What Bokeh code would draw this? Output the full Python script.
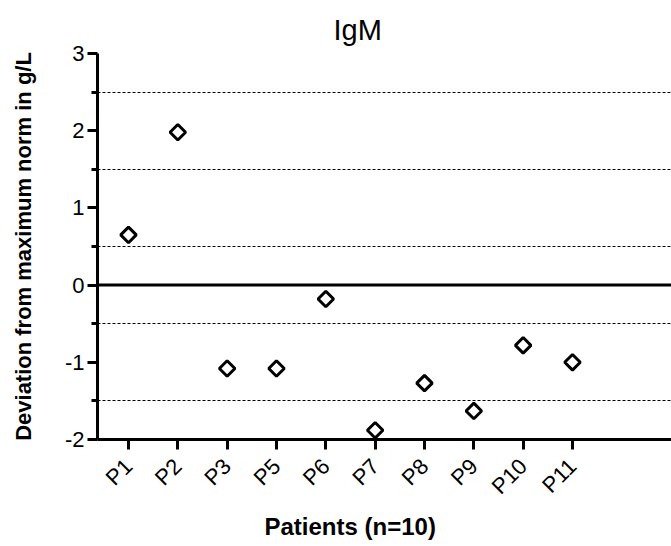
import numpy as np
from bokeh.plotting import figure
from bokeh.models import Range1d, FixedTicker, Span, Title, ColumnDataSource
from bokeh.embed import file_html
from bokeh.resources import INLINE

patients = ["P1", "P2", "P3", "P5", "P6", "P7", "P8", "P9", "P10", "P11"]
deviation = [0.65, 1.98, -1.08, -1.08, -0.18, -1.88, -1.27, -1.63, -0.78, -1.00]
y_ticks = [-2, -1, 0, 1, 2, 3]
y_tick_labels = ["-2", "-1", "0", "1", "2", "3"]
y_minor = [-1.5, -0.5, 0.5, 1.5, 2.5]

FONT = "Liberation Sans"
xpos = list(range(len(patients)))
src = ColumnDataSource(dict(x=xpos, y=deviation, name=patients))

p = figure(width=671, height=546, output_backend="svg", toolbar_location=None,
           x_range=Range1d(-0.628, 11.007), y_range=Range1d(-2, 3),
           min_border_left=97, min_border_right=0, min_border_top=53,
           min_border_bottom=107)
p.outline_line_color = None

p.title.text = "IgM"
p.title.align = "left"
p.title.offset = 236
p.title.text_font = FONT
p.title.text_font_size = "29px"
p.title.text_font_style = "normal"
p.title.text_color = "black"
p.title.standoff = 15

# grid
p.xgrid.visible = False
p.ygrid.ticker = FixedTicker(ticks=y_minor)
p.ygrid.grid_line_color = "black"
p.ygrid.grid_line_width = 1
p.ygrid.grid_line_dash = "3 2"

p.add_layout(Span(location=0, dimension="width", line_color="black", line_width=3))

# y axis
ya = p.yaxis[0]
ya.ticker = FixedTicker(ticks=y_ticks, minor_ticks=y_minor)
ya.major_label_overrides = {t: s for t, s in zip(y_ticks, y_tick_labels)}
ya.axis_line_width = 3
ya.major_tick_line_width = 3
ya.minor_tick_line_width = 3
ya.major_tick_out = 10
ya.major_tick_in = 0
ya.minor_tick_out = 6
ya.minor_tick_in = 0
ya.major_label_text_font = FONT
ya.major_label_text_font_size = "22px"
ya.major_label_text_color = "black"
ya.major_label_standoff = 3
ya.axis_label = "Deviation from maximum norm in g/L"
ya.axis_label_text_font = FONT
ya.axis_label_text_font_size = "22px"
ya.axis_label_text_font_style = "bold"
ya.axis_label_text_color = "black"
ya.axis_label_standoff = 26

# x axis
xa = p.xaxis[0]
xa.ticker = FixedTicker(ticks=xpos, minor_ticks=[])
xa.major_label_overrides = {i: n for i, n in zip(xpos, patients)}
xa.major_label_orientation = np.pi / 4
xa.axis_line_width = 3
xa.major_tick_line_width = 3
xa.major_tick_out = 10
xa.major_tick_in = 0
xa.minor_tick_out = 0
xa.minor_tick_in = 0
xa.major_label_text_font = FONT
xa.major_label_text_font_size = "22px"
xa.major_label_text_color = "black"
xa.major_label_standoff = 13
xa.axis_label_standoff = 0

p.add_layout(Title(text="Patients (n=10)", align="left", offset=167,
                   text_font=FONT, text_font_size="24px", text_font_style="bold",
                   text_color="black", standoff=0), "below")

p.scatter(x="x", y="y", source=src, marker="square", size=11, angle=np.pi / 4,
          fill_color="white", line_color="black", line_width=3)

open("out.html", "w").write(file_html(p, INLINE))
